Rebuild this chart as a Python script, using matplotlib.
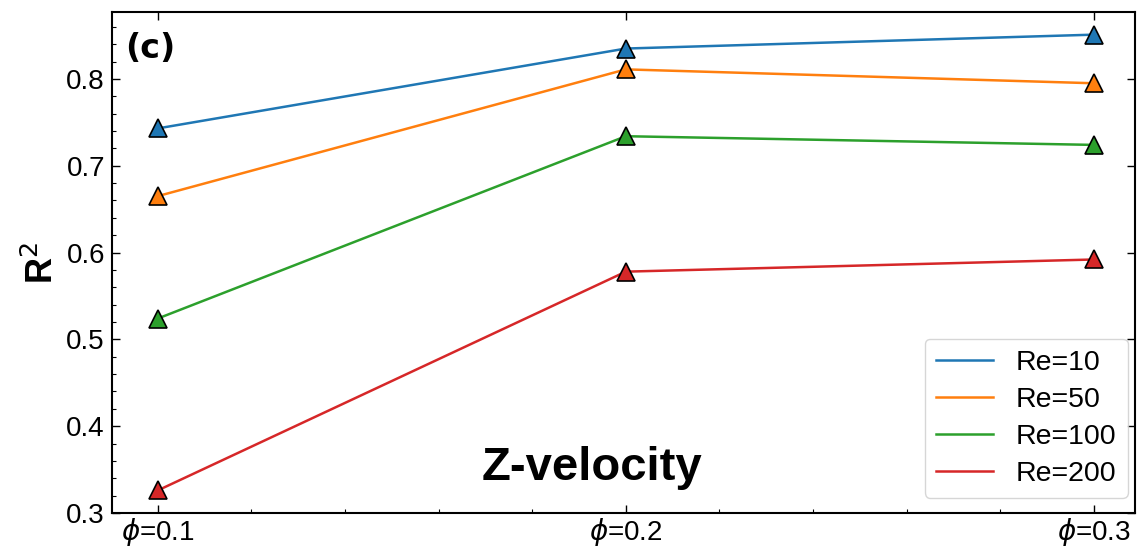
import numpy as np
import matplotlib
matplotlib.use('Agg')
import matplotlib.pyplot as plt
from matplotlib.ticker import MultipleLocator, AutoMinorLocator

plt.rcParams['font.family'] = ['Liberation Sans', 'DejaVu Sans']
plt.rcParams['mathtext.fontset'] = 'dejavusans'

# ── data ─────────────────────────────────────────────
phi_labels = [r'$\phi$=0.1', r'$\phi$=0.2', r'$\phi$=0.3']
re_labels  = ['Re=10', 'Re=50', 'Re=100', 'Re=200']
r2_re10    = [0.743, 0.835, 0.851]
r2_re50    = [0.665, 0.811, 0.795]
r2_re100   = [0.524, 0.734, 0.724]
r2_re200   = [0.326, 0.578, 0.592]
colors     = ['#1f77b4', '#ff7f0e', '#2ca02c', '#d62728']

# ── figure ───────────────────────────────────────────
fig = plt.figure(figsize=(11.42, 5.49), dpi=100)
ax  = fig.add_axes([0.098, 0.0656, 0.8959, 0.9124])

x = np.arange(len(phi_labels))
for vals, lab, c in zip([r2_re10, r2_re50, r2_re100, r2_re200], re_labels, colors):
    ax.plot(x, vals, '-', color=c, lw=1.8, label=lab, zorder=2)
    ax.plot(x, vals, '^', color=c, ms=13, mec='k', mew=1.2, ls='none', zorder=3)

ax.set_xlim(-0.098, 2.088)
ax.set_ylim(0.3, 0.877)
ax.set_xticks(x)
ax.set_xticklabels(phi_labels)
ax.xaxis.set_minor_locator(MultipleLocator(0.2))
ax.yaxis.set_major_locator(MultipleLocator(0.1))
ax.yaxis.set_minor_locator(AutoMinorLocator(5))

ax.tick_params(which='major', direction='in', length=6, width=1, labelsize=20,
               top=True, right=True, pad=5)
ax.tick_params(axis='x', which='major', pad=2)
ax.tick_params(which='minor', direction='in', length=3, width=0.8)
for s in ax.spines.values():
    s.set_linewidth(1.5)

ax.set_ylabel(r'R$^2$', fontsize=26, fontweight='bold', labelpad=4)

ax.text(0.013, 0.928, '(c)', transform=ax.transAxes, fontsize=24,
        fontweight='bold', family='DejaVu Sans', va='center', ha='left')
ax.text(0.469, 0.09, 'Z-velocity', transform=ax.transAxes, fontsize=34,
        fontweight='bold', va='center', ha='center')

ax.legend(loc='lower right', fontsize=20.5, labelspacing=0.38,
          bbox_to_anchor=(0.993, 0.03), borderaxespad=0)

fig.savefig('out.png', dpi=100)
